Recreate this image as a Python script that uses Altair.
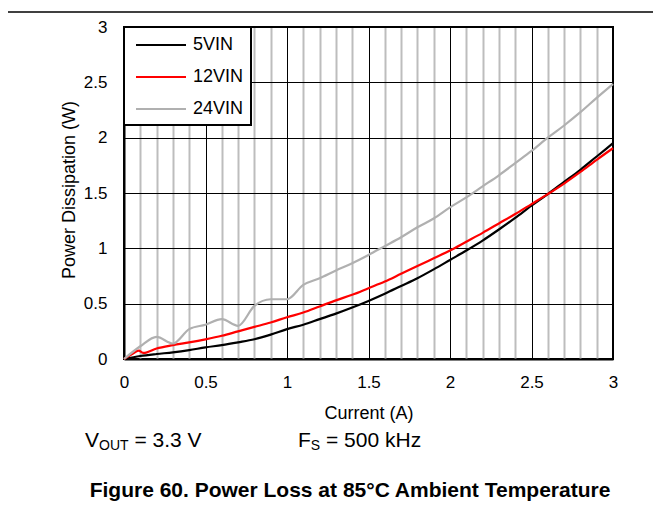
import altair as alt
import pandas as pd

FONT = "Liberation Sans"

# ---- data ----
current_5 = [0.0, 0.1, 0.2, 0.3, 0.4, 0.5, 0.6, 0.7, 0.8, 0.9, 1.0, 1.1, 1.2, 1.3, 1.4, 1.5,
             1.6, 1.7, 1.8, 1.9, 2.0, 2.1, 2.2, 2.3, 2.4, 2.5, 2.6, 2.7, 2.8, 2.9, 3.0]
power_5 = [0.0, 0.027, 0.045, 0.06, 0.08, 0.105, 0.125, 0.15, 0.178, 0.22, 0.27, 0.31, 0.36,
           0.41, 0.465, 0.525, 0.59, 0.66, 0.73, 0.81, 0.895, 0.98, 1.07, 1.17, 1.275, 1.385,
           1.49, 1.60, 1.71, 1.83, 1.95]

current_12 = [0.0, 0.05, 0.09, 0.12, 0.2, 0.3, 0.4, 0.5, 0.6, 0.7, 0.8, 0.9, 1.0, 1.1, 1.2, 1.3,
              1.4, 1.5, 1.6, 1.7, 1.8, 1.9, 2.0, 2.1, 2.2, 2.3, 2.4, 2.5, 2.6, 2.7, 2.8, 2.9, 3.0]
power_12 = [0.0, 0.045, 0.075, 0.055, 0.095, 0.125, 0.15, 0.178, 0.21, 0.25, 0.29, 0.33, 0.377,
            0.42, 0.475, 0.53, 0.58, 0.64, 0.70, 0.77, 0.84, 0.91, 0.98, 1.06, 1.14, 1.225, 1.31,
            1.40, 1.49, 1.585, 1.69, 1.80, 1.905]

current_24 = [0.0, 0.1, 0.2, 0.3, 0.4, 0.5, 0.6, 0.7, 0.8, 0.9, 1.0, 1.1, 1.2, 1.3, 1.4, 1.5,
              1.6, 1.7, 1.8, 1.9, 2.0, 2.1, 2.2, 2.3, 2.4, 2.5, 2.6, 2.7, 2.8, 2.9, 3.0]
power_24 = [0.0, 0.115, 0.20, 0.14, 0.27, 0.31, 0.36, 0.30, 0.48, 0.54, 0.54, 0.67, 0.73, 0.80,
            0.865, 0.94, 1.02, 1.10, 1.19, 1.27, 1.37, 1.46, 1.56, 1.66, 1.77, 1.88, 2.0, 2.11,
            2.23, 2.36, 2.485]

series_names = ["5VIN", "12VIN", "24VIN"]
series_colors = ["#000000", "#ff0000", "#b0b0b0"]

x_ticks = [0.0, 0.1, 0.2, 0.3, 0.4, 0.5, 0.6, 0.7, 0.8, 0.9, 1.0, 1.1, 1.2, 1.3, 1.4, 1.5,
           1.6, 1.7, 1.8, 1.9, 2.0, 2.1, 2.2, 2.3, 2.4, 2.5, 2.6, 2.7, 2.8, 2.9, 3.0]
y_ticks = [0, 0.5, 1, 1.5, 2, 2.5, 3]

x_title = "Current (A)"
y_title = "Power Dissipation (W)"
figure_title = "Figure 60. Power Loss at 85°C Ambient Temperature"

# ---- build table ----
rows = []
for name, xs, ys in zip(series_names, [current_5, current_12, current_24],
                        [power_5, power_12, power_24]):
    for xv, yv in zip(xs, ys):
        rows.append({"Current": xv, "Power": yv, "Series": name})
df = pd.DataFrame(rows)

major = "abs(datum.value*2 - round(datum.value*2)) < 0.001"

x_axis = alt.Axis(
    values=x_ticks, title=x_title, grid=True,
    gridColor={"condition": {"test": major, "value": "#000000"}, "value": "#bdbdbd"},
    gridWidth={"condition": {"test": major, "value": 1}, "value": 2},
    labelExpr=f"{major} ? format(datum.value, '~g') : ''",
    ticks=False, tickSize=0, labelPadding=15, labelFontSize=17, labelFont=FONT,
    labelColor="black", labelFlush=False, labelOverlap=False,
    titleFontSize=18, titleFont=FONT, titleFontWeight="normal", titleColor="black",
    titleY=59, titleBaseline="alphabetic",
    domainColor="black", domainWidth=2,
)
y_axis = alt.Axis(
    values=y_ticks, title=y_title, grid=True, gridColor="#000000", gridWidth=1,
    format="~g", ticks=False, tickSize=0, labelPadding=17, labelFontSize=17,
    labelFont=FONT, labelColor="black", labelFlush=False, labelOverlap=False,
    titleFontSize=18, titleFont=FONT, titleFontWeight="normal", titleColor="black",
    titleX=-49.5, titleY=162.5, titleBaseline="alphabetic", titleAngle=270,
    domainColor="black", domainWidth=2,
)

lines = alt.Chart(df).mark_line(strokeWidth=2.2, interpolate="monotone").encode(
    x=alt.X("Current:Q", scale=alt.Scale(domain=[0, 3], nice=False), axis=x_axis),
    y=alt.Y("Power:Q", scale=alt.Scale(domain=[0, 3], nice=False), axis=y_axis),
    color=alt.Color(
        "Series:N",
        scale=alt.Scale(domain=series_names, range=series_colors),
        legend=alt.Legend(
            orient="none", legendX=0, legendY=0, title=None,
            symbolType="M-0.6,0H4.4", symbolSize=400, symbolStrokeWidth=2,
            labelFontSize=18, labelFont=FONT, labelColor="black", labelOffset=40,
            padding=7, rowPadding=12, strokeColor="black", fillColor="white",
        ),
    ),
    order=alt.Order("ord:Q"),
).transform_calculate(
    ord="indexof(['5VIN','12VIN','24VIN'], datum.Series)"
)


def label(text, x, y, size, weight="normal", align="left"):
    return alt.Chart(pd.DataFrame({"t": [text]})).mark_text(
        align=align, baseline="alphabetic", fontSize=size, font=FONT,
        fontWeight=weight, color="black"
    ).encode(x=alt.value(x), y=alt.value(y), text="t:N")


sep = alt.Chart(pd.DataFrame({"a": [0]})).mark_rule(color="black", strokeWidth=1.5).encode(
    x=alt.value(-116), x2=alt.value(529), y=alt.value(-15)
)

annots = [
    label("V", -39, 419.5, 21),
    label("OUT", -25, 423, 14),
    label("= 3.3 V", 10.4, 419.5, 21),
    label("F", 174, 419.5, 21),
    label("S", 186.8, 423, 14),
    label("= 500 kHz", 202, 419.5, 21),
    label(figure_title, 226, 470, 21, weight="bold", align="center"),
]

chart = alt.layer(lines, sep, *annots).properties(
    width=489, height=332,
    padding={"left": 116, "top": 19, "right": 40, "bottom": 142},
    autosize=alt.AutoSizeParams(type="none"),
    background="white",
).configure_view(stroke="black", strokeWidth=2).configure_legend(strokeWidth=2)

chart.save("out.html", embed_options={"renderer": "svg", "actions": False})
